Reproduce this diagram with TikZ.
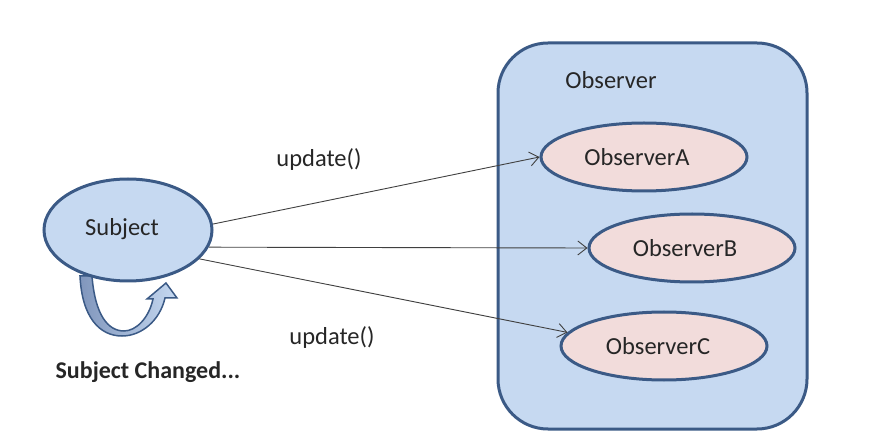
\documentclass[tikz,border=0pt]{standalone}
\usepackage{fontspec}
\setmainfont{Carlito}
\usetikzlibrary{shapes.geometric,arrows.meta}
\definecolor{boxfill}{HTML}{C6D9F1}
\definecolor{edge}{HTML}{3B5A86}
\definecolor{pinkfill}{HTML}{F2DCDB}
\definecolor{txt}{HTML}{262626}
\definecolor{wire}{HTML}{404040}
\definecolor{darkband}{HTML}{8096BC}
\begin{document}
\begin{tikzpicture}[x=1pt,y=-1pt,
 font=\fontsize{24.5}{28}\selectfont, text=txt,
 obs/.style={ellipse, draw=edge, line width=3pt, fill=pinkfill, minimum width=206pt, minimum height=68pt, inner sep=0pt},
 conn/.style={draw=wire, line width=0.9pt, -{Straight Barb[length=9pt,width=14pt]}},
 lbl/.style={inner sep=0pt}]
\useasboundingbox (0,0) rectangle (875,443);
\node[draw=edge, line width=3pt, fill=boxfill, rounded corners=50pt, minimum width=309pt, minimum height=386pt, inner sep=0pt] (group) at (652.5,236) {};
\node[lbl] (grouplbl) at (611,80) {Observer};
\node[obs] (oa) at (644,157) {ObserverA\hspace*{14pt}};
\node[obs] (ob) at (692,248) {ObserverB\hspace*{14pt}};
\node[obs] (oc) at (664,346) {ObserverC\hspace*{12pt}};
% self arrow
\draw[edge, line width=1.5pt, left color=darkband, right color=boxfill]
 (80,276) .. controls (82,318) and (100,336) .. (122,336)
 .. controls (142,336) and (160,320) .. (165,298)
 -- (177,298) -- (166,283) -- (147,299) -- (153,299)
 .. controls (149,318) and (136,331) .. (124,331)
 .. controls (108,331) and (95,315) .. (92,276) -- cycle;
\node[ellipse, draw=edge, line width=3pt, fill=boxfill, minimum width=168pt, minimum height=102pt, inner sep=0pt] (subj) at (128,230) {};
\node[lbl] (subjlbl) at (122,229) {Subject};
\draw[conn] (subj.4) -- (oa.west);
\draw[conn] (subj.-12) -- (ob.west);
\draw[conn] (subj.-22) -- (oc.172);
\node[lbl] (u1) at (319,160) {update()};
\node[lbl] (u2) at (332,338) {update()};
\node[lbl, font=\fontsize{24}{28}\selectfont\bfseries] (chg) at (148,372) {Subject Changed...};
\end{tikzpicture}
\end{document}
